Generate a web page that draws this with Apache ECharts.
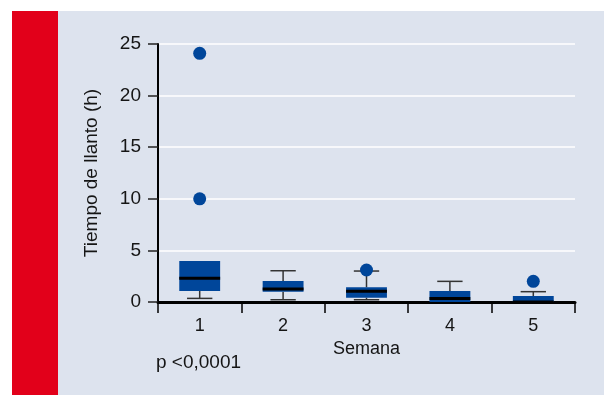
<!DOCTYPE html>
<html><head><meta charset="utf-8">
<script src="https://cdn.jsdelivr.net/npm/echarts@6/dist/echarts.min.js"></script>
<style>html,body{margin:0;padding:0;background:#fff}#c{width:604px;height:395px}</style>
</head><body><div id="c"></div>
<script>
const categories = ['1','2','3','4','5'];
const whiskerLow = [0.35, 0.22, 0.22, 0.0, 0.0];
const q1 = [1.07, 1.0, 0.42, 0.0, 0.0];
const median = [2.3, 1.26, 1.03, 0.35, 0.0];
const q3 = [3.97, 2.03, 1.42, 1.07, 0.58];
const whiskerHigh = [3.97, 3.03, 3.0, 2.0, 1.0];
const outlierCat = ['1','1','3','5'];
const outlierVal = [24.1, 10.0, 3.1, 2.0];
const yTicks = [0,5,10,15,20,25];

const FONT = '"Liberation Sans",Arial,sans-serif';
const BLUE = '#00469a';
const TXT = '#151515';
const chart = echarts.init(document.getElementById('c'), null, {renderer:'canvas'});
const boxData = categories.map((c,i)=>[i, whiskerLow[i], q1[i], median[i], q3[i], whiskerHigh[i]]);
chart.setOption({
  animation:false,
  backgroundColor:'#fff',
  graphic:[
    {type:'rect', z:-10, shape:{x:12,y:11,width:592,height:384}, style:{fill:'#dde3ee'}},
    {type:'rect', z:-9, shape:{x:12,y:11,width:46,height:384}, style:{fill:'#e2001a'}},
    {type:'text', left:156, top:353, style:{text:'p <0,0001', font:'19px '+FONT, fill:TXT}}
  ],
  grid:{left:158, right:29, top:44, bottom:93},
  xAxis:{
    type:'category', data:categories, boundaryGap:true,
    name:'Semana', nameLocation:'middle', nameGap:38,
    nameTextStyle:{fontFamily:FONT, fontSize:18, color:TXT},
    axisLine:{lineStyle:{color:'#000', width:3}},
    axisTick:{show:true, length:11, alignWithLabel:false, lineStyle:{color:'#000', width:1.5}},
    axisLabel:{fontFamily:FONT, fontSize:18, color:TXT, margin:15},
    splitLine:{show:false}
  },
  yAxis:{
    type:'value', min:0, max:25, interval:5,
    name:'Tiempo de llanto (h)', nameLocation:'middle', nameGap:57,
    nameTextStyle:{fontFamily:FONT, fontSize:19, color:TXT},
    axisLine:{show:true, lineStyle:{color:'#000', width:2}},
    axisTick:{show:true, length:10, lineStyle:{color:'#222', width:1.5}},
    axisLabel:{fontFamily:FONT, fontSize:19, color:TXT, margin:17},
    splitLine:{show:true, lineStyle:{color:'#fff', width:1.5}}
  },
  series:[
    {
      type:'custom', z:3,
      data:boxData,
      renderItem:function(params, api){
        const x = api.value(0);
        const pLow = api.coord([x, api.value(1)]);
        const pQ1 = api.coord([x, api.value(2)]);
        const pMed = api.coord([x, api.value(3)]);
        const pQ3 = api.coord([x, api.value(4)]);
        const pHigh = api.coord([x, api.value(5)]);
        const bw = api.size([1,0])[0]*0.49;
        const cw = bw*0.62;
        const cx = pQ1[0];
        const children = [];
        const ws = {stroke:'#333', lineWidth:1.5};
        if (api.value(1) < api.value(2)) {
          children.push({type:'line', shape:{x1:cx,y1:pQ1[1],x2:cx,y2:pLow[1]}, style:ws});
          children.push({type:'line', shape:{x1:cx-cw/2,y1:pLow[1],x2:cx+cw/2,y2:pLow[1]}, style:ws});
        }
        if (api.value(5) > api.value(4)) {
          children.push({type:'line', shape:{x1:cx,y1:pQ3[1],x2:cx,y2:pHigh[1]}, style:ws});
          children.push({type:'line', shape:{x1:cx-cw/2,y1:pHigh[1],x2:cx+cw/2,y2:pHigh[1]}, style:ws});
        }
        children.push({type:'rect', shape:{x:cx-bw/2, y:pQ3[1], width:bw, height:pQ1[1]-pQ3[1]}, style:{fill:BLUE}});
        children.push({type:'line', shape:{x1:cx-bw/2,y1:pMed[1],x2:cx+bw/2,y2:pMed[1]}, style:{stroke:'#000', lineWidth:3}});
        return {type:'group', children:children};
      }
    },
    {
      type:'scatter', z:4,
      data: outlierCat.map((c,i)=>[c, outlierVal[i]]),
      symbol:'circle', symbolSize:13,
      itemStyle:{color:BLUE, opacity:1}
    }
  ]
});
</script></body></html>
